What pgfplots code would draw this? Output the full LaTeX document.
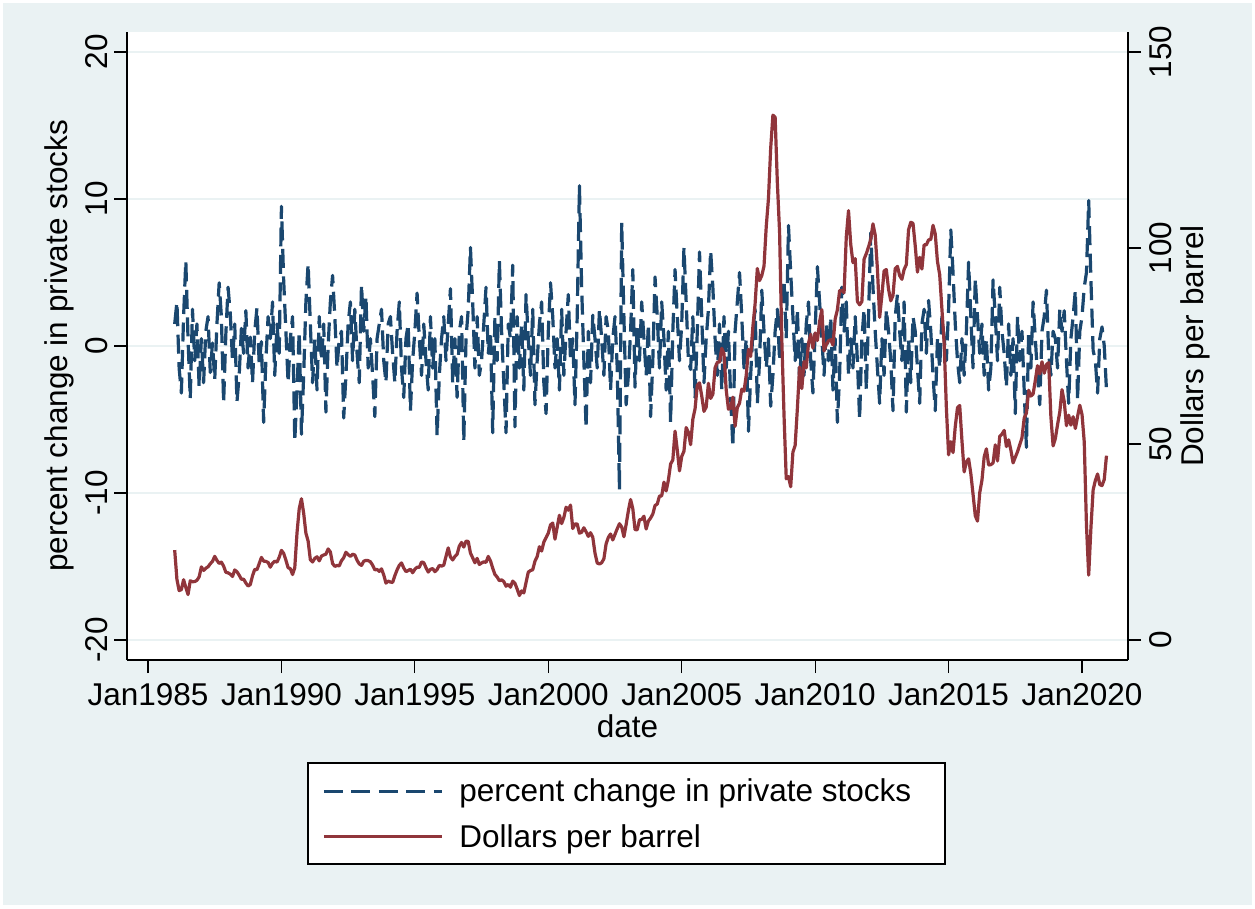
\documentclass[border=0pt]{standalone}
\usepackage{fontspec}
\setmainfont{Liberation Sans}
\usepackage{pgfplots}
\usepackage{pgfplotstable}
\pgfplotsset{compat=1.18}
\definecolor{bg}{RGB}{234,242,243}
\definecolor{navy}{RGB}{26,71,111}
\definecolor{maroon}{RGB}{144,53,59}
\definecolor{gridc}{RGB}{234,242,243}

% percent change in private stocks, monthly Jan 1986 - Dec 2020
\pgfplotstableread[row sep=\\]{
v\\
1.5\\ 3.0\\ -1.5\\ -3.2\\ 2.0\\ 5.8\\ 0.5\\ -3.6\\ 2.5\\ -1.0\\ 1.5\\ -2.8\\
0.5\\ -2.5\\ 1.0\\ 2.0\\ -1.8\\ 0.2\\ -2.3\\ 1.5\\ 4.3\\ 2.0\\ -3.9\\ 0.8\\
4.0\\ 2.2\\ -1.0\\ 1.5\\ -3.8\\ -2.0\\ 1.2\\ -0.5\\ 2.4\\ -1.5\\ 0.6\\ -2.5\\
1.0\\ 2.6\\ -1.2\\ 0.3\\ -5.2\\ -1.0\\ 2.0\\ 0.5\\ 3.0\\ -2.0\\ 1.5\\ -0.5\\
9.5\\ 4.5\\ 1.0\\ -2.5\\ 0.5\\ 2.0\\ -6.5\\ -3.0\\ 1.0\\ -6.0\\ -2.0\\ 3.0\\
5.6\\ 1.5\\ -2.5\\ 0.5\\ -3.0\\ 2.0\\ -1.0\\ 1.5\\ -4.5\\ 0.0\\ 3.0\\ 4.8\\
2.0\\ -1.5\\ 0.5\\ 1.0\\ -4.9\\ -2.0\\ 1.5\\ 3.0\\ -1.0\\ 2.5\\ -0.5\\ -2.5\\
4.2\\ 1.0\\ 3.4\\ -1.5\\ 0.5\\ -2.0\\ -4.8\\ 0.5\\ 1.5\\ 2.5\\ -1.0\\ -2.5\\
1.5\\ 2.0\\ -0.5\\ -2.5\\ 1.0\\ 3.0\\ -1.5\\ -3.5\\ 0.5\\ 1.5\\ -4.4\\ -1.0\\
1.0\\ 3.6\\ 0.5\\ -2.0\\ 1.5\\ -1.0\\ -3.0\\ 2.0\\ -1.5\\ 0.5\\ -6.1\\ -2.0\\
0.5\\ 2.0\\ -1.0\\ 1.5\\ 3.9\\ -2.5\\ 0.5\\ -3.5\\ 1.0\\ 2.0\\ -6.5\\ 0.5\\
2.5\\ 6.7\\ 3.0\\ -1.5\\ 2.0\\ -2.0\\ -1.0\\ 1.5\\ 4.0\\ -0.5\\ 1.0\\ -5.9\\
2.0\\ -1.0\\ 5.8\\ 1.0\\ -2.5\\ -5.9\\ 1.5\\ 0.5\\ 5.5\\ -5.5\\ 2.0\\ -1.5\\
1.5\\ -3.0\\ 3.5\\ 0.5\\ -2.0\\ 2.5\\ -4.0\\ -1.0\\ 1.5\\ 3.0\\ -2.5\\ -4.6\\
1.0\\ 4.3\\ 2.0\\ -1.5\\ 0.5\\ -3.0\\ 2.5\\ -2.0\\ 1.0\\ 3.5\\ -1.0\\ 0.5\\
-4.0\\ 2.0\\ 10.9\\ 4.0\\ -1.0\\ -5.6\\ 1.0\\ -2.5\\ 2.1\\ 0.5\\ -1.5\\ 2.5\\
0.5\\ -2.0\\ 2.0\\ 1.0\\ -3.0\\ 0.5\\ 2.0\\ -1.5\\ -9.8\\ 8.4\\ 2.0\\ -4.0\\
-2.0\\ 1.0\\ 5.2\\ -2.8\\ 1.5\\ -1.0\\ 3.0\\ 0.5\\ -2.0\\ 1.5\\ -4.8\\ -1.0\\
4.7\\ 2.0\\ -1.5\\ 3.0\\ 0.5\\ -3.0\\ 1.0\\ -5.2\\ 1.0\\ 5.2\\ 2.0\\ -1.0\\
1.5\\ 6.7\\ 3.0\\ -1.0\\ -1.6\\ 2.0\\ -3.5\\ 1.0\\ 6.4\\ 2.0\\ -2.5\\ 0.5\\
2.5\\ 6.5\\ 4.0\\ 0.5\\ -2.0\\ 1.5\\ -3.0\\ 2.0\\ -1.5\\ 1.0\\ -3.5\\ -6.9\\
1.0\\ 3.0\\ 5.0\\ 2.0\\ -1.5\\ 0.5\\ -5.8\\ -2.0\\ 1.0\\ 2.5\\ -3.9\\ -1.0\\
3.8\\ 1.0\\ -1.5\\ 0.5\\ -4.1\\ -2.0\\ 1.0\\ 2.5\\ -1.0\\ 3.0\\ 4.5\\ 0.5\\
8.2\\ 5.0\\ 2.0\\ -1.0\\ 2.5\\ -2.5\\ 0.5\\ -2.0\\ 1.5\\ 3.0\\ -1.0\\ -3.2\\
1.0\\ 5.4\\ 3.0\\ 0.5\\ -2.0\\ 1.5\\ -1.0\\ 2.0\\ -3.0\\ 0.5\\ -5.2\\ -2.0\\
4.0\\ 1.0\\ 3.0\\ -2.0\\ 0.5\\ -1.5\\ 2.0\\ -1.0\\ -5.0\\ 0.5\\ 2.5\\ -3.0\\
2.0\\ 7.7\\ 4.0\\ 1.0\\ -1.5\\ -3.9\\ 0.5\\ -2.0\\ 2.5\\ 1.0\\ -1.0\\ -4.4\\
2.0\\ 3.5\\ 1.0\\ -1.0\\ 3.0\\ -4.5\\ 0.5\\ -2.5\\ 2.0\\ 1.0\\ -1.5\\ -3.9\\
1.5\\ 2.5\\ -0.5\\ 3.1\\ 1.0\\ -2.0\\ -4.4\\ 0.5\\ -1.5\\ 2.0\\ 0.5\\ -1.0\\
2.5\\ 7.9\\ 5.0\\ 1.5\\ -1.0\\ -2.5\\ 0.5\\ -2.0\\ 1.0\\ 5.7\\ 2.0\\ -1.5\\
4.6\\ 2.0\\ -0.5\\ 1.5\\ -2.0\\ 0.5\\ -3.0\\ -1.5\\ 4.5\\ 2.0\\ -1.0\\ 4.0\\
1.0\\ -0.5\\ -2.8\\ 1.5\\ -2.0\\ 0.5\\ -4.6\\ 2.0\\ -1.0\\ 1.0\\ -3.0\\ -6.9\\
1.0\\ -1.5\\ 3.0\\ 0.5\\ -2.0\\ -4.0\\ 1.0\\ 2.0\\ 3.8\\ -0.5\\ -2.0\\ 1.0\\
0.5\\ -1.5\\ 2.5\\ 1.0\\ 2.4\\ -1.0\\ -3.9\\ 0.5\\ 2.0\\ 3.8\\ -3.7\\ 1.0\\
2.0\\ 4.0\\ 5.0\\ 9.9\\ 4.5\\ -0.3\\ -1.0\\ -3.2\\ 0.5\\ 1.3\\ 0.0\\ -3.0\\
}\stocks

% Dollars per barrel, monthly Jan 1986 - Dec 2020
\pgfplotstableread[row sep=\\]{
v\\
22.93\\ 15.46\\ 12.61\\ 12.84\\ 15.38\\ 13.43\\ 11.59\\ 15.10\\ 14.87\\ 14.90\\ 15.22\\ 16.11\\
18.65\\ 17.75\\ 18.30\\ 18.68\\ 19.44\\ 20.07\\ 21.34\\ 20.31\\ 19.53\\ 19.86\\ 18.85\\ 17.28\\
17.13\\ 16.80\\ 16.20\\ 17.86\\ 17.42\\ 16.53\\ 15.50\\ 15.52\\ 14.54\\ 13.77\\ 14.14\\ 16.38\\
18.02\\ 17.94\\ 19.48\\ 21.07\\ 20.12\\ 20.05\\ 19.78\\ 18.58\\ 19.59\\ 20.10\\ 19.86\\ 21.10\\
22.86\\ 22.11\\ 20.39\\ 18.43\\ 18.20\\ 16.70\\ 18.45\\ 27.31\\ 33.51\\ 36.04\\ 32.33\\ 27.28\\
25.23\\ 20.48\\ 19.90\\ 20.83\\ 21.23\\ 20.19\\ 21.40\\ 21.69\\ 21.89\\ 23.23\\ 22.46\\ 19.50\\
18.79\\ 19.01\\ 18.92\\ 20.23\\ 20.98\\ 22.39\\ 21.78\\ 21.34\\ 21.88\\ 21.69\\ 20.34\\ 19.41\\
19.03\\ 20.09\\ 20.32\\ 20.25\\ 19.95\\ 19.09\\ 17.89\\ 18.01\\ 17.50\\ 18.15\\ 16.61\\ 14.52\\
15.03\\ 14.78\\ 14.68\\ 16.42\\ 17.89\\ 19.06\\ 19.66\\ 18.38\\ 17.45\\ 17.72\\ 18.07\\ 17.16\\
18.04\\ 18.57\\ 18.54\\ 19.90\\ 19.74\\ 18.45\\ 17.33\\ 18.02\\ 18.23\\ 17.43\\ 17.99\\ 19.03\\
18.86\\ 19.09\\ 21.33\\ 23.50\\ 21.17\\ 20.42\\ 21.30\\ 21.90\\ 23.97\\ 24.88\\ 23.71\\ 25.23\\
25.13\\ 22.18\\ 20.97\\ 19.70\\ 20.82\\ 19.26\\ 19.66\\ 19.95\\ 19.80\\ 21.33\\ 20.19\\ 18.33\\
16.72\\ 16.06\\ 15.12\\ 15.35\\ 14.91\\ 13.72\\ 14.17\\ 13.47\\ 15.03\\ 14.46\\ 13.00\\ 11.35\\
12.52\\ 12.01\\ 14.68\\ 17.31\\ 17.72\\ 17.92\\ 20.10\\ 21.28\\ 23.80\\ 22.69\\ 25.00\\ 26.10\\
27.26\\ 29.37\\ 29.84\\ 25.72\\ 28.79\\ 31.82\\ 29.70\\ 31.26\\ 33.88\\ 33.11\\ 34.42\\ 28.44\\
29.59\\ 29.61\\ 27.24\\ 27.49\\ 28.63\\ 27.60\\ 26.43\\ 27.37\\ 26.20\\ 22.17\\ 19.64\\ 19.39\\
19.72\\ 20.72\\ 24.53\\ 26.18\\ 27.04\\ 25.52\\ 26.97\\ 28.39\\ 29.66\\ 28.84\\ 26.35\\ 29.46\\
32.95\\ 35.83\\ 33.51\\ 28.17\\ 28.11\\ 30.66\\ 30.76\\ 31.57\\ 28.31\\ 30.34\\ 31.11\\ 32.13\\
34.31\\ 34.69\\ 36.74\\ 36.75\\ 40.28\\ 38.03\\ 40.78\\ 44.90\\ 45.94\\ 53.28\\ 48.47\\ 43.15\\
46.84\\ 48.15\\ 54.19\\ 52.98\\ 49.83\\ 56.35\\ 59.00\\ 64.99\\ 65.59\\ 62.26\\ 58.32\\ 59.41\\
65.49\\ 61.63\\ 62.69\\ 69.44\\ 70.84\\ 70.95\\ 74.41\\ 73.04\\ 63.80\\ 58.89\\ 59.08\\ 61.96\\
54.51\\ 59.28\\ 60.44\\ 63.98\\ 63.46\\ 67.49\\ 74.12\\ 72.36\\ 79.92\\ 85.80\\ 94.77\\ 91.69\\
92.97\\ 95.39\\ 105.45\\ 112.58\\ 125.40\\ 133.88\\ 133.37\\ 116.67\\ 104.11\\ 76.61\\ 57.31\\ 41.12\\
41.71\\ 39.09\\ 47.94\\ 49.65\\ 59.03\\ 69.64\\ 64.15\\ 71.05\\ 69.41\\ 75.72\\ 77.99\\ 74.47\\
78.33\\ 76.39\\ 81.20\\ 84.29\\ 73.74\\ 75.34\\ 76.32\\ 76.60\\ 75.24\\ 81.89\\ 84.25\\ 89.15\\
89.17\\ 88.58\\ 102.86\\ 109.53\\ 100.90\\ 96.26\\ 97.30\\ 86.33\\ 85.52\\ 86.32\\ 97.16\\ 98.56\\
100.27\\ 102.20\\ 106.16\\ 103.32\\ 94.66\\ 82.30\\ 87.90\\ 94.13\\ 94.51\\ 89.49\\ 86.53\\ 87.86\\
94.76\\ 95.31\\ 92.94\\ 92.02\\ 94.51\\ 95.77\\ 104.67\\ 106.57\\ 106.29\\ 100.54\\ 93.86\\ 97.63\\
94.62\\ 100.82\\ 100.80\\ 102.07\\ 102.18\\ 105.79\\ 103.59\\ 96.54\\ 93.21\\ 84.40\\ 75.79\\ 59.29\\
47.22\\ 50.58\\ 47.82\\ 54.45\\ 59.27\\ 59.82\\ 50.90\\ 42.87\\ 45.48\\ 46.22\\ 42.44\\ 37.19\\
31.68\\ 30.32\\ 37.55\\ 40.75\\ 46.71\\ 48.76\\ 44.65\\ 44.72\\ 45.18\\ 49.78\\ 45.66\\ 51.97\\
52.50\\ 53.47\\ 49.33\\ 51.06\\ 48.48\\ 45.18\\ 46.63\\ 48.04\\ 49.82\\ 51.58\\ 56.64\\ 57.88\\
63.70\\ 62.23\\ 62.73\\ 66.25\\ 69.98\\ 67.87\\ 70.98\\ 68.06\\ 70.23\\ 70.75\\ 56.96\\ 49.52\\
51.38\\ 54.95\\ 58.15\\ 63.86\\ 60.83\\ 54.66\\ 57.35\\ 54.81\\ 56.95\\ 53.96\\ 57.03\\ 59.88\\
57.52\\ 50.54\\ 29.21\\ 16.55\\ 28.56\\ 38.31\\ 40.71\\ 42.34\\ 39.63\\ 39.40\\ 40.94\\ 47.02\\
}\oil

\begin{document}
\begin{tikzpicture}[x=1pt,y=1pt,font=\fontsize{31.5}{37.5}\selectfont]
\fill[white] (0,0) rectangle (1255,908);
\fill[bg] (3,3) rectangle (1252,905);
\useasboundingbox (0,0) rectangle (1255,908);
\draw[line width=1.2pt, fill=white] (308,44) rectangle (945,145);

\pgfplotsset{
  common/.style={
    at={(127pt,248pt)}, anchor=south west,
    scale only axis, width=1001pt, height=628pt,
    xmin=1984.213, xmax=2021.724,
    axis line style={line width=1.2pt, black, -},
    tick align=outside,
    major tick length=13pt,
    tick style={line width=1.2pt, black},
    /pgf/number format/assume math mode=true,
  }
}

\begin{axis}[
  common,
  ymin=-21.36, ymax=21.36,
  axis x line*=bottom, axis y line*=left,
  axis background/.style={fill=white},
  xtick={1985,1990,1995,2000,2005,2010,2015,2020},
  xticklabels={Jan1985,Jan1990,Jan1995,Jan2000,Jan2005,Jan2010,Jan2015,Jan2020},
  ytick={-20,-10,0,10,20},
  yticklabels={-20,-10,0,10,20},
  ymajorgrids,
  major grid style={gridc, line width=2pt},
  yticklabel style={rotate=90, anchor=south, inner sep=6pt},
  xticklabel style={anchor=north, inner sep=0pt, yshift=-10pt},
  xlabel={date},
  ylabel={percent change in private stocks},
  xlabel style={at={(axis description cs:0.5,-0.106)}, anchor=center, inner sep=0pt},
  ylabel style={at={(axis description cs:-0.068,0.5)}, anchor=center, inner sep=0pt},
]
\addplot[navy, line width=3.2pt, dash pattern=on 19pt off 8.5pt, line join=round]
  table[x expr=1986+\coordindex/12, y=v] {\stocks};
\end{axis}

\begin{axis}[
  common,
  ymin=-5.102, ymax=155.102,
  axis x line=none, axis y line*=right,
  ytick={0,50,100,150},
  yticklabels={0,50,100,150},
  yticklabel style={rotate=90, anchor=north, inner sep=8pt},
  ylabel={Dollars per barrel},
  ylabel style={at={(axis description cs:1.0669,0.5)}, anchor=center, inner sep=0pt},
  legend style={at={(axis description cs:0.1948,-0.2452)}, anchor=west,
    draw=none, fill=none, inner sep=0pt, row sep=17pt,
    cells={anchor=west},
    /tikz/every odd column/.append style={column sep=14pt}},
  legend image code/.code={\draw[#1] (0pt,0pt) -- (118pt,0pt);},
]
\addlegendimage{navy, line width=3.2pt, dash pattern=on 19pt off 8.5pt}
\addlegendentry{percent change in private stocks}
\addplot[maroon, line width=3.2pt, line join=round]
  table[x expr=1986+\coordindex/12, y=v] {\oil};
\addlegendentry{Dollars per barrel}
\end{axis}
\end{tikzpicture}
\end{document}
